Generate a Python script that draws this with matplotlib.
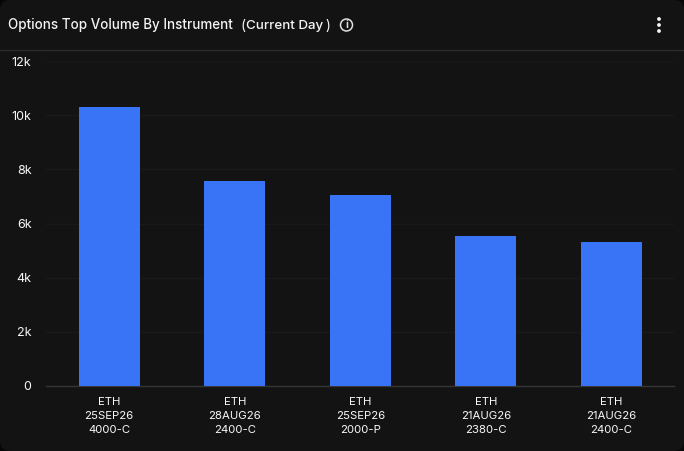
import matplotlib
matplotlib.use('Agg')
import matplotlib.pyplot as plt
from matplotlib.patches import FancyBboxPatch, Circle

# Data
instruments = ['ETH\n25SEP26\n4000-C', 'ETH\n28AUG26\n2400-C', 'ETH\n25SEP26\n2000-P',
               'ETH\n21AUG26\n2380-C', 'ETH\n21AUG26\n2400-C']
volumes = [10300, 7570, 7050, 5540, 5320]
tick_values = [0, 2000, 4000, 6000, 8000, 10000, 12000]
tick_labels = ['0', '2k', '4k', '6k', '8k', '10k', '12k']

W, H = 684, 451
BG = '#131313'
plt.rcParams['font.family'] = ['Inter', 'DejaVu Sans']

fig = plt.figure(figsize=(W / 100, H / 100), dpi=100, facecolor='#060606')

# Card background over the whole figure, in pixels
over = fig.add_axes([0, 0, 1, 1])
over.set_xlim(0, W)
over.set_ylim(H, 0)
over.axis('off')
over.add_patch(FancyBboxPatch((0, 0), W, H, boxstyle='round,pad=0,rounding_size=10',
                              fc=BG, ec='none'))
over.plot([0, W], [50, 50], color='#2a2a2e', lw=1)

# title in two pieces, the bracket part sits a bit tighter in the original
over.text(8, 25.5, 'Options Top Volume By Instrument', color='#f5f5f5',
          fontsize=9.65, fontweight='medium', va='center', ha='left')
over.text(240, 25.5, '(', color='#f5f5f5', fontsize=9.8, va='center', ha='left')
over.text(246.5, 25.5, 'Current Day', color='#f5f5f5', fontsize=9.6,
          fontweight='medium', va='center', ha='left')
over.text(330, 25.5, ')', color='#f5f5f5', fontsize=9.8, va='center', ha='right')

# info icon
over.add_patch(Circle((346.5, 25), 6, fc='none', ec='#e0e0e0', lw=1.1))
over.text(346.5, 25, 'i', color='#e0e0e0', fontsize=7.5, ha='center', va='center', fontweight='bold')

# menu dots
for y in [19, 25, 31]:
    over.add_patch(Circle((659, y), 1.9, fc='#f5f5f5', ec='none'))

# Chart
ax = fig.add_axes([46 / W, 1 - 386 / H, 628 / W, 325 / H])
ax.patch.set_alpha(0)
ax.bar(range(len(volumes)), volumes, width=0.486, color='#3874f5', zorder=3)
ax.set_xlim(-0.503, len(volumes) - 0.503)
ax.set_ylim(0, 12000)
ax.set_yticks(tick_values)
ax.set_yticklabels(tick_labels)
ax.set_xticks(range(len(volumes)))
ax.set_xticklabels(instruments, linespacing=1.5)
ax.tick_params(axis='y', length=0, pad=10.5, labelsize=9, labelcolor='#f8f8f8')
ax.tick_params(axis='x', length=0, pad=8, labelsize=8.2, labelcolor='#f8f8f8')
ax.grid(axis='y', color='#191919', lw=1)
ax.set_axisbelow(True)
for side in ['top', 'right', 'left']:
    ax.spines[side].set_visible(False)
ax.spines['bottom'].set_color('#363636')
ax.spines['bottom'].set_linewidth(1)

fig.savefig('out.png', dpi=100, facecolor=fig.get_facecolor())
